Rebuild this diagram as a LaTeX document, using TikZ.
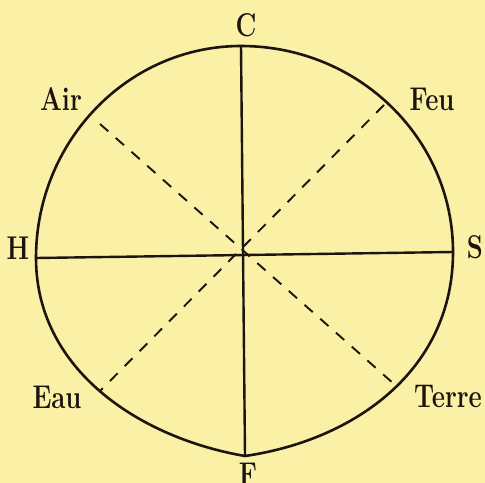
\documentclass[tikz,border=0pt]{standalone}
\definecolor{paper}{RGB}{250,240,166}
\definecolor{ink}{RGB}{28,20,14}
\tikzstyle{lbl} = [inner sep=0pt, xscale=0.78, text=ink, font=\fontsize{33}{33}\selectfont\bfseries]
\tikzstyle{rim} = [draw=ink, line width=2.6bp]
\tikzstyle{axis} = [draw=ink, line width=2.4bp]
\tikzstyle{diag} = [draw=ink, line width=1.9bp, dash pattern=on 11bp off 10bp]

\begin{document}
\begin{tikzpicture}[x=1bp, y=-1bp]
%achtergrond
\fill[paper] (0,0) rectangle (485,483);
\useasboundingbox (0,0) rectangle (485,483);
%punten op de rand
\coordinate (rC) at (241,46);
\coordinate (rS) at (453,252);
\coordinate (rF) at (245,456);
\coordinate (rH) at (36,258);
%eindpunten van de stippellijnen
\coordinate (dAir) at (100,124);
\coordinate (dTerre) at (394,384);
\coordinate (dFeu) at (384,105);
\coordinate (dEau) at (100,391);
%rand
\draw[rim] (rC) .. controls (358,46) and (453,138) .. (rS)
    .. controls (453,370) and (355,440) .. (rF)
    .. controls (140,438) and (36,370) .. (rH)
    .. controls (36,141) and (128,46) .. cycle;
%assen
\draw[axis] (rC) -- (rF);
\draw[axis] (rH) -- (rS);
%stippellijnen
\draw[diag] (dAir) -- (dTerre);
\draw[diag] (dFeu) -- (dEau);
%letters
\node[lbl] (C) at (246,25) {C};
\node[lbl] (F) at (248,474) {F};
\node[lbl] (H) at (18,248) {H};
\node[lbl] (S) at (475,247) {S};
\node[lbl] (Air) at (61,99) {Air};
\node[lbl] (Feu) at (432,99) {Feu};
\node[lbl] (Eau) at (57,397) {Eau};
\node[lbl] (Terre) at (448,396) {Terre};
\end{tikzpicture}
\end{document}
